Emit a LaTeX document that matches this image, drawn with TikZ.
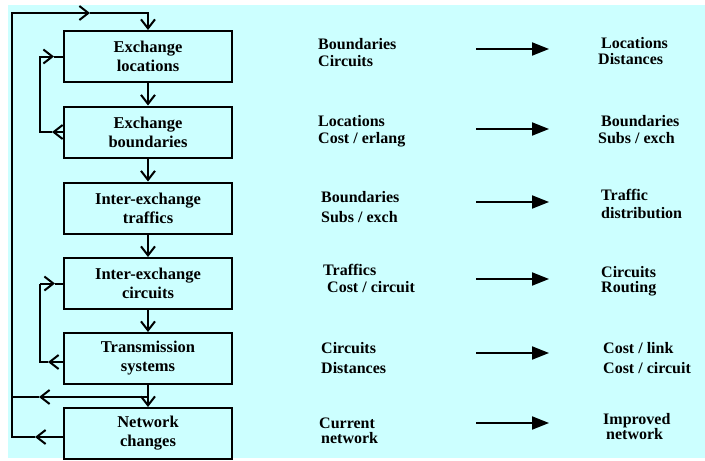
\documentclass[tikz,border=0pt]{standalone}
\usepackage{fontspec}
\setmainfont{Liberation Serif}[BoldFont={Liberation Serif Bold}]
\usetikzlibrary{arrows.meta}
\definecolor{bgc}{HTML}{CCFFFF}
% two stacked lines: baseline skip, first line, indent of second line, second line
\newcommand\duo[4]{\vtop{\baselineskip=#1pt\hbox{#2}\hbox{\kern#3pt #4}}}
\tikzset{
  stage/.style={draw, line width=2pt, minimum width=168pt, minimum height=51pt,
    inner sep=0pt, align=center, font=\rmfamily\bfseries\fontsize{16.5}{19}\selectfont},
  wire/.style={line width=2pt},
  flow/.style={line width=2pt, -{Straight Barb[length=9pt,width=14pt]}},
  result/.style={line width=2pt, -{Triangle[length=17pt,width=13pt]}},
  lbl/.style={anchor=base west, inner sep=0pt, font=\rmfamily\bfseries\fontsize{16}{17}\selectfont},
}
\begin{document}
\begin{tikzpicture}[x=1pt, y=-1pt]
\useasboundingbox (0,0) rectangle (705,461);
\fill[bgc] (8,5) rectangle (705,458);

% planning stages
\node[stage] (b1) at (148,56.5)  {Exchange\\locations};
\node[stage] (b2) at (148,132)   {Exchange\\boundaries};
\node[stage] (b3) at (148,208)   {Inter-exchange\\traffics};
\node[stage] (b4) at (148,283.5) {Inter-exchange\\circuits};
\node[stage] (b5) at (148,358.5) {Transmission\\systems};
\node[stage] (b6) at (148,433.5) {Network\\changes};

% main sequence
\draw[flow] (b1.south) -- (b2.north);
\draw[flow] (b2.south) -- (b3.north);
\draw[flow] (b3.south) -- (b4.north);
\draw[flow] (b4.south) -- (b5.north);
\draw[flow] (b5.south) -- (b6.north);

% inner feedback: boundaries back to locations
\coordinate (l1a) at (52,132);
\coordinate (l1b) at (54,56.5);
\draw[flow] (b2.west) -- (l1a);
\draw[wire] (l1a) -- (40,132) -- (40,56.5) -- (48,56.5);
\draw[flow] (40,56.5) -- (l1b);
\draw[wire] (l1b) -- (b1.west);

% inner feedback: transmission back to circuits
\coordinate (l2s) at ([yshift=-3.5pt]b5.west);
\coordinate (l2a) at (48,362);
\coordinate (l2b) at (55,283.5);
\draw[flow] (l2s) -- (l2a);
\draw[wire] (l2a) -- (40,362) -- (40,283.5);
\draw[flow] (40,283.5) -- (l2b);
\draw[wire] (l2b) -- (b4.west);

% outer feedback loop
\coordinate (l3s) at ([yshift=-3.5pt]b6.west);
\coordinate (l3a) at (35,437);
\coordinate (top) at (90,13);
\coordinate (split) at (148,397);
\coordinate (l4a) at (39,397);
\draw[flow] (l3s) -- (l3a);
\draw[wire] (l3a) -- (12,437) -- (12,13) -- (80,13);
\draw[flow] (12,13) -- (top);
\draw[flow] (top) -- (148,13) -- (b1.north);
\draw[flow] (split) -- (l4a);
\draw[wire] (l4a) -- (12,397);

% inputs, outputs and the arrows between them
\node[lbl] (m1) at (318,49)  {\duo{17}{Boundaries}{0}{Circuits}};
\node[lbl] (m2) at (318,126) {\duo{17}{Locations}{0}{Cost / erlang}};
\node[lbl] (m3) at (321,202) {\duo{20}{Boundaries}{0}{Subs / exch}};
\node[lbl] (m4) at (323,275) {\duo{17}{Traffics}{4}{Cost / circuit}};
\node[lbl] (m5) at (321,353) {\duo{20}{Circuits}{0}{Distances}};
\node[lbl] (m6) at (319,428) {\duo{15}{Current}{2}{network}};

\node[lbl] (r1) at (601,48)  {\duo{16}{Locations}{-3}{Distances}};
\node[lbl] (r2) at (601,126) {\duo{17}{Boundaries}{-3}{Subs / exch}};
\node[lbl] (r3) at (601,200) {\duo{18}{Traffic}{0}{distribution}};
\node[lbl] (r4) at (601,277) {\duo{15.5}{Circuits}{0}{Routing}};
\node[lbl] (r5) at (603,353) {\duo{20}{Cost / link}{0}{Cost / circuit}};
\node[lbl] (r6) at (603,424) {\duo{15}{Improved}{3}{network}};

\foreach \i/\y in {1/49, 2/129, 3/202, 4/279, 5/353, 6/423} {
  \coordinate (s\i) at (476,\y);
  \coordinate (e\i) at (549,\y);
  \draw[result] (s\i) -- (e\i);
}
\end{tikzpicture}
\end{document}
